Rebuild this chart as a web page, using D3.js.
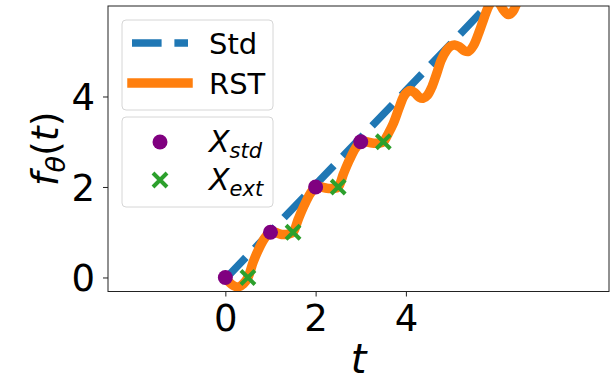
<!DOCTYPE html>
<html>
<head>
<meta charset="utf-8">
<script src="https://cdn.jsdelivr.net/npm/d3@7"></script>
<style>
  html, body { margin: 0; padding: 0; background: #fff; }
  svg { display: block; }
  text { font-family: "DejaVu Sans", sans-serif; }
</style>
</head>
<body>
<svg id="chart" width="616" height="381"></svg>
<script>
// ---- data ----
const xTicks = [0, 2, 4];
const yTicks = [0, 2, 4];

// "Std" model (dashed blue)
const stdT = [0, 1, 2, 3, 4, 5, 6, 6.5];
const stdV = [-0.03, 1.01, 2.05, 3.09, 4.13, 5.17, 6.21, 6.73];

// "RST" model (solid orange)
const rstT = [0, 0.08, 0.18, 0.29, 0.4, 0.5, 0.62, 0.75, 0.88, 1.0, 1.1, 1.25, 1.4, 1.5,
  1.62, 1.75, 1.88, 2.0, 2.12, 2.25, 2.4, 2.5, 2.62, 2.75, 2.88, 3.0, 3.12, 3.25, 3.4, 3.5,
  3.62, 3.72, 3.85, 3.95, 4.03, 4.1, 4.2, 4.3, 4.38, 4.48, 4.58, 4.68, 4.78, 4.9, 5.0, 5.08,
  5.18, 5.3, 5.39, 5.5, 5.62, 5.72, 5.83, 5.92, 6.0, 6.08, 6.17, 6.27, 6.37, 6.46, 6.55];
const rstV = [0, -0.1, -0.18, -0.21, -0.14, 0, 0.35, 0.65, 0.88, 1.0, 1.0, 0.95, 0.96, 1.0,
  1.3, 1.6, 1.85, 2.0, 2.0, 1.97, 1.97, 2.0, 2.3, 2.6, 2.85, 3.0, 3.0, 2.97, 2.97, 3.0,
  3.2, 3.4, 3.75, 4.0, 4.1, 4.13, 4.08, 3.98, 3.96, 4.03, 4.22, 4.5, 4.8, 5.02, 5.12, 5.14,
  5.1, 5.01, 5.0, 5.13, 5.42, 5.7, 5.99, 6.12, 6.15, 6.05, 5.9, 5.81, 5.88, 6.07, 6.25];

// training points
const xStdT = [0, 1, 2, 3];
const xStdV = [0, 1, 2, 3];
// extrapolation points
const xExtT = [0.5, 1.5, 2.5, 3.5];
const xExtV = [0, 1, 2, 3];

const legend1Labels = ["Std", "RST"];
const legend2Labels = [["X", "std"], ["X", "ext"]];

// ---- layout ----
const svg = d3.select("#chart");
const L = 108, R = 609, T = 6, B = 291.5;
const x = d3.scaleLinear().domain([-2.6, 8.5]).range([L, R]);
const y = d3.scaleLinear().domain([-0.31, 6.0]).range([B, T]);

const blue = "#1f77b4", orange = "#ff7f0e", purple = "#800080", green = "#2ca02c";

svg.append("defs").append("clipPath").attr("id", "clip")
  .append("rect").attr("x", L).attr("y", T).attr("width", R - L).attr("height", B - T);

const plot = svg.append("g").attr("clip-path", "url(#clip)");

const line = d3.line().x(d => x(d[0])).y(d => y(d[1]));
const smooth = d3.line().x(d => x(d[0])).y(d => y(d[1])).curve(d3.curveCatmullRom.alpha(0.5));

plot.append("path")
  .datum(stdT.map((t, i) => [t, stdV[i]]))
  .attr("d", line)
  .attr("fill", "none").attr("stroke", blue).attr("stroke-width", 7.5)
  .attr("stroke-dasharray", "29.6,12.8");

plot.append("path")
  .datum(rstT.map((t, i) => [t, rstV[i]]))
  .attr("d", smooth)
  .attr("fill", "none").attr("stroke", orange).attr("stroke-width", 9.5)
  .attr("stroke-linejoin", "round").attr("stroke-linecap", "square");

const marks = svg.append("g");
marks.selectAll("circle.std").data(xStdT.map((t, i) => [t, xStdV[i]])).join("circle")
  .attr("class", "std")
  .attr("cx", d => x(d[0])).attr("cy", d => y(d[1])).attr("r", 7.5).attr("fill", purple);

const crossPath = s => `M${-s},${-s}L${s},${s}M${-s},${s}L${s},${-s}`;
marks.selectAll("path.ext").data(xExtT.map((t, i) => [t, xExtV[i]])).join("path")
  .attr("class", "ext")
  .attr("transform", d => `translate(${x(d[0])},${y(d[1])})`)
  .attr("d", crossPath(7))
  .attr("stroke", green).attr("stroke-width", 4).attr("fill", "none");

// ---- axes ----
const axisColor = "#222";
const gx = svg.append("g").attr("transform", `translate(0,${B})`)
  .call(d3.axisBottom(x).tickValues(xTicks).tickFormat(d3.format("d")).tickSize(5).tickPadding(8));
const gy = svg.append("g").attr("transform", `translate(${L},0)`)
  .call(d3.axisLeft(y).tickValues(yTicks).tickFormat(d3.format("d")).tickSize(5).tickPadding(8));
[gx, gy].forEach(g => {
  g.select(".domain").remove();
  g.selectAll(".tick line").attr("stroke", axisColor).attr("stroke-width", 1);
  g.selectAll(".tick text").attr("fill", "#000").style("font-size", "37px")
    .style("font-family", "DejaVu Sans, sans-serif");
});
gy.selectAll(".tick text").attr("dy", "0.36em");

svg.append("rect").attr("x", L).attr("y", T).attr("width", R - L).attr("height", B - T)
  .attr("fill", "none").attr("stroke", axisColor).attr("stroke-width", 1);

// axis labels
svg.append("text").attr("x", (L + R) / 2).attr("y", 373).attr("text-anchor", "middle")
  .style("font-size", "40px").style("font-style", "italic").text("t");

const yl = svg.append("text").attr("transform", `translate(58,${(T + B) / 2}) rotate(-90)`)
  .attr("text-anchor", "middle").style("font-size", "38px");
yl.append("tspan").style("font-style", "italic").text("f");
yl.append("tspan").attr("dy", 7).style("font-size", "27px").style("font-style", "italic").text("θ");
yl.append("tspan").attr("dy", -7).text("(");
yl.append("tspan").style("font-style", "italic").text("t");
yl.append("tspan").text(")");

// ---- legends ----
const lg1 = svg.append("g");
lg1.append("rect").attr("x", 122).attr("y", 20).attr("width", 151).attr("height", 90)
  .attr("rx", 4).attr("fill", "#fff").attr("fill-opacity", 0.8).attr("stroke", "#d6d6d6");
lg1.append("line").attr("x1", 132).attr("x2", 188).attr("y1", 43).attr("y2", 43)
  .attr("stroke", blue).attr("stroke-width", 7.5).attr("stroke-dasharray", "29.6,12.8");
lg1.append("line").attr("x1", 132).attr("x2", 188).attr("y1", 83).attr("y2", 83)
  .attr("stroke", orange).attr("stroke-width", 9.5).attr("stroke-linecap", "square");
lg1.selectAll("text").data(legend1Labels).join("text")
  .attr("x", 209).attr("y", (d, i) => 54 + i * 40)
  .style("font-size", "29px").text(d => d);

const lg2 = svg.append("g");
lg2.append("rect").attr("x", 122).attr("y", 117).attr("width", 151).attr("height", 90)
  .attr("rx", 4).attr("fill", "#fff").attr("fill-opacity", 0.8).attr("stroke", "#d6d6d6");
lg2.append("circle").attr("cx", 160).attr("cy", 142).attr("r", 7.5).attr("fill", purple);
lg2.append("path").attr("transform", "translate(160,180)").attr("d", crossPath(7))
  .attr("stroke", green).attr("stroke-width", 4).attr("fill", "none");
legend2Labels.forEach((lab, i) => {
  const tx = lg2.append("text").attr("x", 209).attr("y", 152 + i * 38).style("font-size", "30px");
  tx.append("tspan").style("font-style", "italic").text(lab[0]);
  tx.append("tspan").attr("dy", 6).style("font-size", "21px").style("font-style", "italic").text(lab[1]);
});
</script>
</body>
</html>
